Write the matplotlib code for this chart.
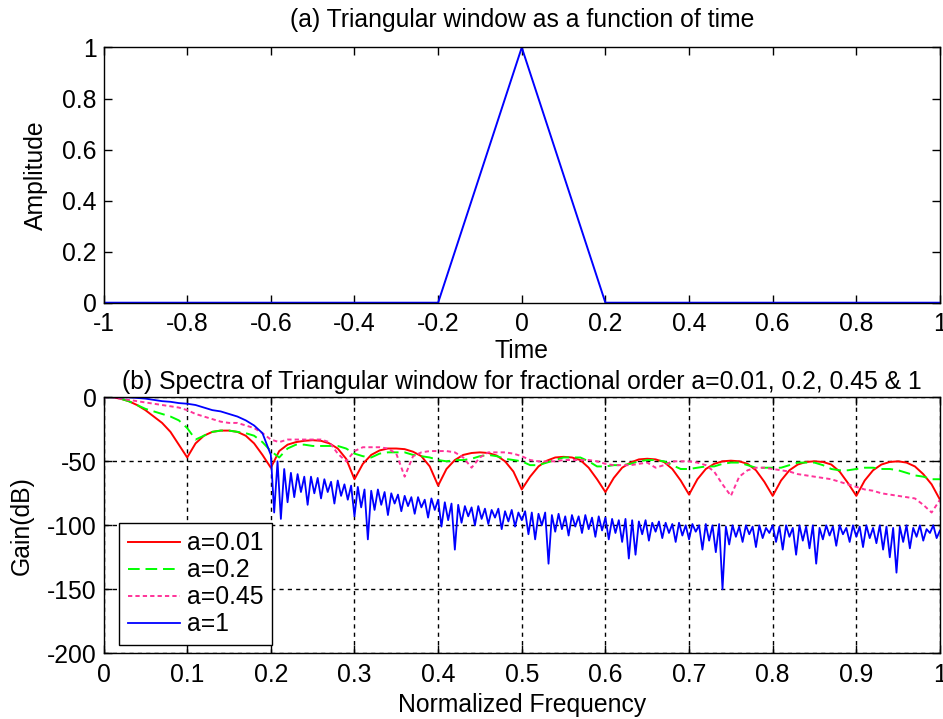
import numpy as np
import matplotlib
matplotlib.use('Agg')
import matplotlib.pyplot as plt
from matplotlib.ticker import FormatStrFormatter

plt.rcParams['font.family'] = ['Liberation Sans', 'DejaVu Sans']
FS = 17.8

# (a) triangular window
time_pts = [-1.0, -0.2, 0.0, 0.2, 1.0]
amp_pts = [0.0, 0.0, 1.0, 0.0, 0.0]
time_ticks = [-1, -0.8, -0.6, -0.4, -0.2, 0, 0.2, 0.4, 0.6, 0.8, 1]
amp_ticks = [0, 0.2, 0.4, 0.6, 0.8, 1]

# (b) spectra, 0.01 steps in normalized frequency
freq = np.linspace(0, 1, 101)
freq_ticks = [0, 0.1, 0.2, 0.3, 0.4, 0.5, 0.6, 0.7, 0.8, 0.9, 1]
gain_ticks = [-200, -150, -100, -50, 0]

gain_001 = [
	0, 0, -1, -3, -6, -10, -15, -20, -27, -37,
	-47, -36, -30, -27, -26, -26, -27, -30, -36, -45,
	-55, -42, -37, -35, -34, -33.5, -34, -36, -40, -48,
	-64, -52, -45, -41.5, -40, -40, -40.5, -42.5, -46, -54,
	-69, -56, -49, -45, -43.5, -43, -43.5, -45.5, -50, -58,
	-72, -62, -54, -49.5, -47, -46.5, -47, -49, -55, -64,
	-74, -63, -55, -51, -48.5, -48, -48.5, -50.5, -56, -65,
	-76, -64, -56, -52, -50, -49.5, -50, -52, -57, -66,
	-77, -65, -57, -52.5, -50.5, -50, -50.5, -52.5, -58, -67,
	-77, -65, -57, -52.5, -50.5, -50, -51, -54, -60, -68,
	-80]

gain_02 = [
	0, 0, -1, -3, -6, -9, -11, -13, -15, -18,
	-24, -33, -30, -27, -26, -26, -27, -28, -30, -35,
	-42, -47, -40, -37, -37, -38, -38, -38, -38, -40,
	-44, -46, -47, -44, -43, -43, -43, -45, -46, -47,
	-49, -50, -49, -49, -48, -46, -45, -46, -48, -49,
	-50, -53, -53, -51, -49, -47, -47, -47, -50, -54,
	-54, -53, -53, -52, -50, -49, -49, -50, -53, -56,
	-56, -55, -54, -54, -52, -51, -51, -53, -55, -55,
	-55, -55, -53, -51, -51, -51, -53, -56, -57, -57,
	-56, -55, -55, -56, -56, -57, -59, -61, -62, -64,
	-64]

gain_045 = [
	0, 0, -1, -2, -3, -4, -5, -6, -7, -8,
	-10, -13, -15, -17, -19, -20, -20, -22, -24, -28,
	-33, -35, -33, -33, -33, -33, -33, -35, -44, -50,
	-42, -39, -39, -39, -40, -44, -62, -46, -43, -42,
	-42, -42, -43, -47, -55, -47, -43, -43, -43, -44,
	-46, -49, -50, -50, -50, -49, -49, -49, -49, -50,
	-52, -53, -53, -53, -52, -51, -55, -53, -50, -50,
	-50, -51, -53, -58, -68, -77, -62, -57, -55, -55,
	-56, -57, -58, -60, -61, -62, -63, -64, -66, -68,
	-70, -72, -73, -75, -76, -77, -78, -79, -84, -90,
	-80]

# a=1: smooth roll-off up to 0.19, then the ragged part in 0.004 steps
freq_1_head = np.linspace(0, 0.19, 20)
gain_1_head = [0, 0, 0, 0, -0.5, -1, -2, -3, -3.5, -4.5,
	-5, -6, -8, -10, -11, -13, -15, -18, -22, -28]
freq_1_tail = np.linspace(0.2, 1.0, 201)
gain_1_tail = [
	-45, -90, -50, -95, -56, -82, -59, -78, -60, -74,
	-62, -84, -62, -75, -63, -79, -64, -74, -66, -83,
	-65, -77, -68, -80, -69, -93, -70, -86, -72, -111,
	-73, -88, -72, -84, -74, -92, -75, -83, -76, -89,
	-77, -85, -78, -91, -78, -86, -80, -94, -79, -88,
	-80, -101, -82, -96, -83, -119, -84, -98, -85, -93,
	-86, -100, -85, -95, -87, -99, -88, -94, -87, -103,
	-89, -97, -88, -101, -90, -96, -89, -107, -90, -111,
	-91, -100, -90, -130, -92, -105, -91, -103, -93, -108,
	-92, -101, -93, -106, -92, -103, -94, -109, -93, -104,
	-94, -111, -95, -106, -96, -113, -95, -126, -96, -123,
	-97, -107, -96, -112, -98, -105, -97, -110, -98, -106,
	-99, -113, -98, -108, -100, -111, -99, -105, -100, -119,
	-99, -112, -100, -121, -99, -150, -101, -115, -100, -109,
	-101, -113, -100, -107, -101, -117, -100, -110, -102, -106,
	-100, -113, -101, -119, -100, -109, -102, -123, -100, -112,
	-101, -118, -100, -130, -102, -111, -100, -108, -101, -116,
	-100, -107, -102, -113, -100, -109, -101, -117, -100, -110,
	-102, -114, -100, -119, -101, -125, -102, -137, -101, -113,
	-100, -118, -102, -109, -100, -112, -103, -106, -100, -110,
	-104]

labels = ['a=0.01', 'a=0.2', 'a=0.45', 'a=1']
colors = ['#ff0000', '#00ff00', '#ff3399', '#0000ff']


def matlab_axes(ax):
	for s in ax.spines.values():
		s.set_linewidth(1.0)
		s.set_color('black')
	ax.tick_params(direction='in', top=True, right=True, length=6,
			width=1.0, labelsize=FS)
	ax.tick_params(axis='x', pad=7)
	ax.tick_params(axis='y', pad=5)
	ax.xaxis.set_major_formatter(FormatStrFormatter('%g'))
	ax.yaxis.set_major_formatter(FormatStrFormatter('%g'))


fig = plt.figure(figsize=(9.43, 7.19), dpi=100)
ax1 = fig.add_axes([0.1098, 0.579, 0.887, 0.355])
ax2 = fig.add_axes([0.1098, 0.0914, 0.887, 0.356])

# top panel
ax1.plot(time_pts, amp_pts, color='#0000ff', lw=1.4)
ax1.set_xlim(-1, 1)
ax1.set_ylim(0, 1)
ax1.set_xticks(time_ticks)
ax1.set_yticks(amp_ticks)
matlab_axes(ax1)
ax1.set_title('(a) Triangular window as a function of time', fontsize=FS, pad=15)
ax1.set_xlabel('Time', fontsize=FS, labelpad=2)
ax1.set_ylabel('Amplitude', fontsize=FS)
ax1.yaxis.set_label_coords(-0.066, 0.5)

# bottom panel
ax2.plot(freq, gain_001, color=colors[0], lw=1.4, label=labels[0])
ax2.plot(freq, gain_02, color=colors[1], lw=1.4, dashes=(6, 3), label=labels[1])
ax2.plot(freq, gain_045, color=colors[2], lw=1.4, dashes=(2.2, 1.6), label=labels[2])
ax2.plot(np.concatenate([freq_1_head, freq_1_tail]),
		gain_1_head + gain_1_tail, color=colors[3], lw=1.3, label=labels[3])
ax2.set_xlim(0, 1)
ax2.set_ylim(-200, 0)
ax2.set_xticks(freq_ticks)
ax2.set_yticks(gain_ticks)
ax2.grid(True, color='black', lw=1.0, dashes=(3, 3))
matlab_axes(ax2)
ax2.set_title('(b) Spectra of Triangular window for fractional order a=0.01, 0.2, 0.45 & 1',
		fontsize=FS, pad=6)
ax2.set_xlabel('Normalized Frequency', fontsize=FS, labelpad=4)
ax2.set_ylabel('Gain(dB)', fontsize=FS)
ax2.yaxis.set_label_coords(-0.084, 0.5)

leg = ax2.legend(loc='lower left', bbox_to_anchor=(0.0185, 0.0324), borderaxespad=0,
		fontsize=FS, fancybox=False, framealpha=1, edgecolor='black',
		handlelength=2.1, handletextpad=0.3, labelspacing=0.12, borderpad=0.35)
leg.get_frame().set_linewidth(1.0)

fig.savefig('out.png', dpi=100)
